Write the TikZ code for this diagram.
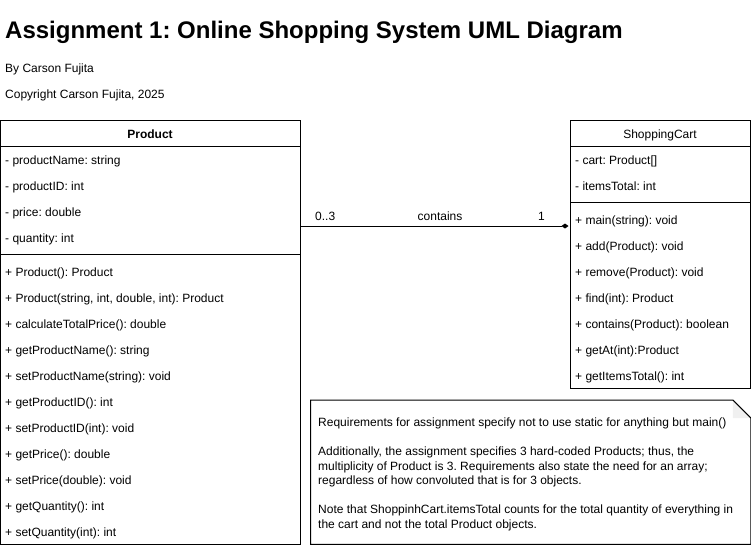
\documentclass[tikz,border=0pt]{standalone}
\usepackage{fontspec}
\setmainfont{Liberation Sans}
\usetikzlibrary{arrows.meta, positioning}
\frenchspacing

\begin{document}
\begin{tikzpicture}[
	x=1pt, y=-1pt,
	font=\fontsize{12}{14}\selectfont,
	classbox/.style={
		draw,
		line width=1pt,
		anchor=north west,
		inner sep=0pt,
		outer sep=0pt
	},
	member/.style={anchor=west, inner sep=0pt, text height=9pt, text depth=3pt, yshift=-2pt},
	header/.style={inner sep=0pt, text height=9pt, text depth=3pt, yshift=-2pt},
	divider/.style={line width=1pt},
	assoc/.style={-{Diamond[length=7pt, width=5pt]}, line width=1pt, shorten >=2pt},
	notetext/.style={
		anchor=north west,
		align=left,
		inner sep=0pt,
		font=\fontsize{12}{14.5}\selectfont
	}
]
	\useasboundingbox (0,0) rectangle (751,547);

	% title block
	\node[anchor=west, inner sep=0pt, yshift=-2pt, font=\fontsize{24}{28}\selectfont\bfseries] (title) at (5,30) {Assignment 1: Online Shopping System UML Diagram};
	\node[member] (author) at (5,67) {By Carson Fujita};
	\node[member] (copy) at (5,93) {Copyright Carson Fujita, 2025};

	% Product class
	\node[classbox, minimum width=300pt, minimum height=424pt] (product) at (0.5,120) {};
	\node[header, font=\fontsize{12}{14}\selectfont\bfseries] (productname) at (150,133) {Product};
	\draw[divider] ([yshift=-26pt]product.north west) -- ([yshift=-26pt]product.north east);
	\draw[divider] ([yshift=-134pt]product.north west) -- ([yshift=-134pt]product.north east);
	\foreach \txt [count=\i from 0] in {- productName: string, - productID: int, - price: double, - quantity: int}
		\node[member] (pattr\i) at (5,159+26*\i) {\txt};
	\foreach \txt [count=\i from 0] in {+ Product(): Product, {+ Product(string, int, double, int): Product}, + calculateTotalPrice(): double, + getProductName(): string, + setProductName(string): void, + getProductID(): int, + setProductID(int): void, + getPrice(): double, + setPrice(double): void, + getQuantity(): int, + setQuantity(int): int}
		\node[member] (pop\i) at (5,271+26*\i) {\txt};

	% ShoppingCart class
	\node[classbox, minimum width=180pt, minimum height=268pt] (cart) at (570.5,120) {};
	\node[header] (cartname) at (660,133) {ShoppingCart};
	\draw[divider] ([yshift=-26pt]cart.north west) -- ([yshift=-26pt]cart.north east);
	\draw[divider] ([yshift=-82pt]cart.north west) -- ([yshift=-82pt]cart.north east);
	\foreach \txt [count=\i from 0] in {- cart: Product[], - itemsTotal: int}
		\node[member] (cattr\i) at (575,159+26*\i) {\txt};
	\foreach \txt [count=\i from 0] in {+ main(string): void, + add(Product): void, + remove(Product): void, + find(int): Product, + contains(Product): boolean, + getAt(int):Product, + getItemsTotal(): int}
		\node[member] (cop\i) at (575,219+26*\i) {\txt};

	% association
	\coordinate (link) at (440,226);
	\draw[assoc] (product.east |- link) -- (cart.west |- link);
	\node[header, anchor=west] (multprod) at (315,215) {0..3};
	\node[header] (assocname) at (440,215) {contains};
	\node[header, anchor=east] (multcart) at (545,215) {1};

	% note
	\node[anchor=north west, minimum width=440pt, minimum height=144pt, inner sep=0pt] (note) at (310.5,400) {};
	\fill[gray!12] ([xshift=-18pt]note.north east) -- ([xshift=-18pt,yshift=-18pt]note.north east) -- ([yshift=-18pt]note.north east) -- cycle;
	\draw[line width=1pt] (note.north west) -- ([xshift=-18pt]note.north east) -- ([yshift=-18pt]note.north east) -- (note.south east) -- (note.south west) -- cycle;
	\node[notetext] (notebody) at (318,418) {Requirements for assignment specify not to use static for anything but main()\\[14.5pt]
Additionally, the assignment specifies 3 hard-coded Products; thus, the\\
multiplicity of Product is 3. Requirements also state the need for an array;\\
regardless of how convoluted that is for 3 objects.\\[14.5pt]
Note that ShoppinhCart.itemsTotal counts for the total quantity of everything in\\
the cart and not the total Product objects.};

\end{tikzpicture}
\end{document}
